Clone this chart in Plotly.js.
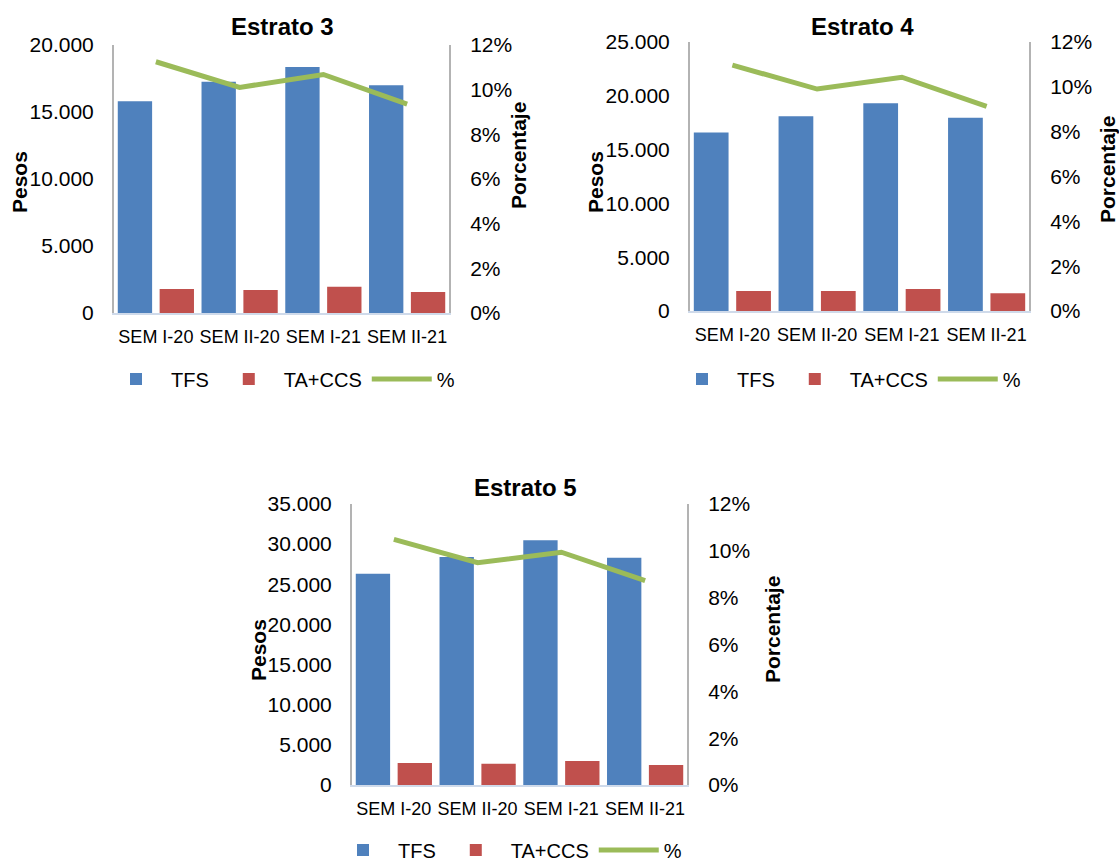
<!DOCTYPE html>
<html>
<head>
<meta charset="utf-8">
<script src="https://cdn.plot.ly/plotly-3.0.1.min.js"></script>
<style>html,body{margin:0;padding:0;background:#fff;}#chart{width:1119px;height:863px;}</style>
</head>
<body>
<div id="chart"></div>
<script>
// ---- data ----
const categories = ['SEM I-20', 'SEM II-20', 'SEM I-21', 'SEM II-21'];
const seriesNames = ['TFS', 'TA+CCS', '%'];
const chartTitles = ['Estrato 3', 'Estrato 4', 'Estrato 5'];
const leftTitle = 'Pesos';
const rightTitle = 'Porcentaje';

const tfs3 = [15800, 17250, 18350, 17000];
const ta3  = [1800, 1720, 1950, 1570];
const pct3 = [0.1125, 0.101, 0.1068, 0.0935];

const tfs4 = [16600, 18100, 19300, 17950];
const ta4  = [1850, 1850, 2050, 1650];
const pct4 = [0.1097, 0.099, 0.1043, 0.0913];

const tfs5 = [26300, 28400, 30500, 28300];
const ta5  = [2750, 2650, 3000, 2500];
const pct5 = [0.1049, 0.0949, 0.0994, 0.0873];

const leftMax = [20000, 25000, 35000];
const rightMax = 0.12;

// ---- styles ----
const W = 1119, H = 863;
const FONT = 'Liberation Sans, Arial, sans-serif';
const BLUE = '#4f81bd', RED = '#c0504d', GREEN = '#9bbb59';
const px = v => v / W;
const py = v => 1 - v / H;

const panels = [
  {tfs: tfs3, ta: ta3, pct: pct3, x: [114, 449], y: [45, 313], xa: 'x',  ya: 'y',  ya2: 'y2', lg: 'legend',
   title: [282, 27], lt: [19, 182], rt: [518, 156], legendX: 101, legendY: 379},
  {tfs: tfs4, ta: ta4, pct: pct4, x: [690, 1029], y: [42, 311], xa: 'x2', ya: 'y3', ya2: 'y4', lg: 'legend2',
   title: [862, 27], lt: [595, 182], rt: [1108, 170], legendX: 667, legendY: 379},
  {tfs: tfs5, ta: ta5, pct: pct5, x: [352, 687], y: [504, 785], xa: 'x3', ya: 'y5', ya2: 'y6', lg: 'legend3',
   title: [525, 487], lt: [258, 650], rt: [772, 630], legendX: 328, legendY: 850}
];

const traces = [];
const layout = {
  width: W, height: H,
  margin: {l: 0, r: 0, t: 0, b: 0, autoexpand: false},
  paper_bgcolor: '#fff', plot_bgcolor: 'rgba(0,0,0,0)',
  separators: ',.',
  font: {family: FONT, color: '#000', size: 20},
  barmode: 'group', bargap: 0, bargroupgap: 0.18,
  showlegend: true,
  hovermode: false,
  annotations: []
};

panels.forEach((p, i) => {
  const xName = p.xa === 'x' ? 'xaxis' : 'xaxis' + p.xa.slice(1);
  const yName = p.ya === 'y' ? 'yaxis' : 'yaxis' + p.ya.slice(1);
  const y2Name = 'yaxis' + p.ya2.slice(1);

  traces.push({type: 'bar', name: seriesNames[0], x: categories, y: p.tfs, xaxis: p.xa, yaxis: p.ya,
               marker: {color: BLUE}, legend: p.lg});
  traces.push({type: 'bar', name: seriesNames[1], x: categories, y: p.ta, xaxis: p.xa, yaxis: p.ya,
               marker: {color: RED}, legend: p.lg});
  traces.push({type: 'scatter', mode: 'lines', name: seriesNames[2], x: categories, y: p.pct, xaxis: p.xa, yaxis: p.ya2,
               line: {color: GREEN, width: 5}, legend: p.lg});

  layout[xName] = {
    domain: [px(p.x[0]), px(p.x[1])], anchor: p.ya,
    type: 'category', range: [-0.5, 3.5],
    showline: true, linecolor: '#cfdaea', linewidth: 2,
    ticks: '', showgrid: false, zeroline: false,
    tickfont: {size: 18, family: FONT, color: '#000'},
    ticklabelstandoff: 6, fixedrange: true
  };
  layout[yName] = {
    domain: [py(p.y[1]), py(p.y[0])], anchor: p.xa,
    range: [0, leftMax[i]], dtick: 5000, tick0: 0, tickformat: ',d',
    showline: true, linecolor: '#b3b3b3', linewidth: 2,
    ticks: '', showgrid: false, zeroline: false,
    tickfont: {size: 21, family: FONT, color: '#000'},
    ticklabelstandoff: 14, fixedrange: true
  };
  layout[y2Name] = {
    overlaying: p.ya, side: 'right', anchor: p.xa,
    range: [0, rightMax], dtick: 0.02, tick0: 0, tickformat: '.0%',
    showline: true, linecolor: '#b3b3b3', linewidth: 2,
    ticks: '', showgrid: false, zeroline: false,
    tickfont: {size: 21, family: FONT, color: '#000'},
    ticklabelstandoff: 15, fixedrange: true
  };
  layout[p.lg] = {
    orientation: 'h', x: px(p.legendX), xanchor: 'left', y: py(p.legendY), yanchor: 'middle',
    font: {size: 20, family: FONT, color: '#000'}, itemwidth: 60, bgcolor: 'rgba(0,0,0,0)',
    traceorder: 'normal', itemclick: false, itemdoubleclick: false
  };
  layout.annotations.push({
    text: '<b>' + chartTitles[i] + '</b>', xref: 'paper', yref: 'paper',
    x: px(p.title[0]), y: py(p.title[1]), xanchor: 'center', yanchor: 'middle',
    showarrow: false, font: {size: 24, family: FONT, color: '#000'}
  });
  layout.annotations.push({
    text: '<b>' + leftTitle + '</b>', xref: 'paper', yref: 'paper', textangle: -90,
    x: px(p.lt[0]), y: py(p.lt[1]), xanchor: 'center', yanchor: 'middle',
    showarrow: false, font: {size: 21, family: FONT, color: '#000'}
  });
  layout.annotations.push({
    text: '<b>' + rightTitle + '</b>', xref: 'paper', yref: 'paper', textangle: -90,
    x: px(p.rt[0]), y: py(p.rt[1]), xanchor: 'center', yanchor: 'middle',
    showarrow: false, font: {size: 21, family: FONT, color: '#000'}
  });
});

Plotly.newPlot('chart', traces, layout, {displayModeBar: false, staticPlot: true});
</script>
</body>
</html>
